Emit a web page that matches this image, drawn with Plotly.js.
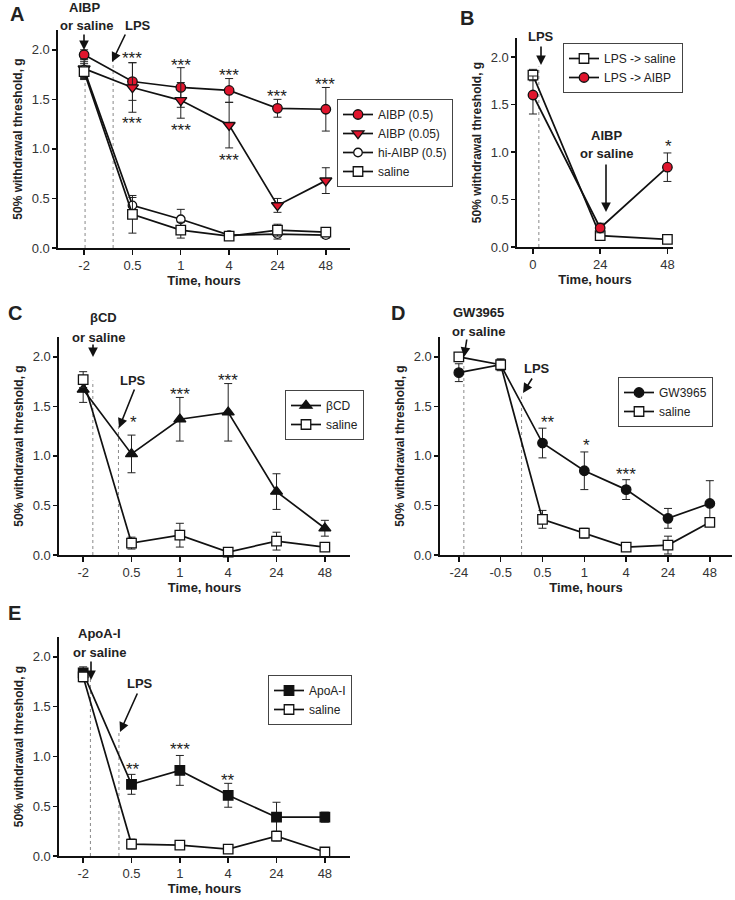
<!DOCTYPE html>
<html><head><meta charset="utf-8">
<script src="https://cdn.plot.ly/plotly-3.0.1.min.js"></script>
<style>html,body{margin:0;padding:0;background:#fff}</style>
</head><body><div id="chart" style="width:735px;height:900px"></div>
<script>
// ---------- data ----------
const catA = ['-2','0.5','1','4','24','48'];
const aibp05 = [1.95,1.68,1.62,1.59,1.41,1.40];
const aibp05Err = [0.05,0.19,0.20,0.12,0.09,0.22];
const aibp005 = [1.81,1.62,1.49,1.24,0.43,0.68];
const aibp005Err = [0.10,0.25,0.18,0.23,0.07,0.13];
const hiAibp = [1.80,0.43,0.29,0.13,0.14,0.13];
const hiAibpErr = [0.08,0.08,0.10,0.03,0.05,0.03];
const salineA = [1.78,0.34,0.18,0.12,0.18,0.16];
const salineAErr = [0.08,0.19,0.08,0.03,0.06,0.04];

const timeB = [0,24,48];
const salineB = [1.81,0.12,0.08];
const salineBErr = [0.06,0.03,0.02];
const aibpB = [1.60,0.20,0.84];
const aibpBErr = [0.20,0.05,0.15];

const catC = ['-2','0.5','1','4','24','48'];
const bcd = [1.67,1.02,1.37,1.44,0.64,0.27];
const bcdErr = [0.13,0.19,0.22,0.29,0.18,0.08];
const salineC = [1.77,0.12,0.20,0.03,0.14,0.08];
const salineCErr = [0.08,0.06,0.12,0.02,0.09,0.03];

const catD = ['-24','-0.5','0.5','1','4','24','48'];
const gw = [1.84,1.92,1.13,0.85,0.66,0.37,0.52];
const gwErr = [0.09,0.06,0.15,0.19,0.10,0.10,0.23];
const salineD = [2.00,1.92,0.36,0.22,0.08,0.10,0.33];
const salineDErr = [0.03,0.05,0.09,0.05,0.02,0.09,0.02];

const catE = ['-2','0.5','1','4','24','48'];
const apo = [1.84,0.72,0.86,0.61,0.39,0.39];
const apoErr = [0.06,0.10,0.15,0.12,0.15,0.05];
const salineE = [1.80,0.12,0.11,0.07,0.20,0.04];
const salineEErr = [0.05,0.05,0.02,0.02,0.05,0.02];

// ---------- helpers ----------
const W = 735, H = 900;
const px = x => x / W, py = y => 1 - y / H;
const FONT = 'Liberation Sans, Arial, sans-serif';
const RED = '#e0152d';

function tr(x, y, err, xa, ya, leg, name, symbol, fill, size) {
  return {
    x: x, y: y, type: 'scatter', mode: 'lines+markers', name: name,
    xaxis: xa, yaxis: ya, legend: leg, cliponaxis: false,
    line: {color: '#111', width: 1.7},
    marker: {symbol: symbol, size: size || 9.5, color: fill, line: {color: '#111', width: 1.3}},
    error_y: {type: 'data', array: err, visible: true, color: '#222', thickness: 1, width: 4}
  };
}

const traces = [
  tr(catA, aibp05, aibp05Err, 'x', 'y', 'legend', 'AIBP (0.5)', 'circle', RED),
  tr(catA, aibp005, aibp005Err, 'x', 'y', 'legend', 'AIBP (0.05)', 'triangle-down', RED, 10.5),
  tr(catA, hiAibp, hiAibpErr, 'x', 'y', 'legend', 'hi-AIBP (0.5)', 'circle', '#fff', 8.5),
  tr(catA, salineA, salineAErr, 'x', 'y', 'legend', 'saline', 'square', '#fff'),
  tr(timeB, salineB, salineBErr, 'x2', 'y2', 'legend2', 'LPS -> saline', 'square', '#fff'),
  tr(timeB, aibpB, aibpBErr, 'x2', 'y2', 'legend2', 'LPS -> AIBP', 'circle', RED),
  tr(catC, bcd, bcdErr, 'x3', 'y3', 'legend3', '\u03b2CD', 'triangle-up', '#111', 10.5),
  tr(catC, salineC, salineCErr, 'x3', 'y3', 'legend3', 'saline', 'square', '#fff'),
  tr(catD, gw, gwErr, 'x4', 'y4', 'legend4', 'GW3965', 'circle', '#111'),
  tr(catD, salineD, salineDErr, 'x4', 'y4', 'legend4', 'saline', 'square', '#fff'),
  tr(catE, apo, apoErr, 'x5', 'y5', 'legend5', 'ApoA-I', 'square', '#111'),
  tr(catE, salineE, salineEErr, 'x5', 'y5', 'legend5', 'saline', 'square', '#fff')
];

function xax(domain, anchor, extra) {
  return Object.assign({
    domain: domain, anchor: anchor, showline: true, linecolor: '#111', linewidth: 1.6,
    ticks: 'outside', ticklen: 5, tickwidth: 1.4, tickcolor: '#111',
    showgrid: false, zeroline: false,
    tickfont: {family: FONT, size: 13, color: '#333'},
    title: {text: '<b>Time, hours</b>', font: {family: FONT, size: 13, color: '#222'}, standoff: 2}
  }, extra);
}
function yax(domain, anchor) {
  return {
    domain: domain, anchor: anchor, range: [0, 2.2], showline: true, linecolor: '#111', linewidth: 1.6,
    ticks: 'outside', ticklen: 4, tickwidth: 1.4, tickcolor: '#111',
    tickvals: [0, 0.5, 1, 1.5, 2], tickformat: '.1f',
    showgrid: false, zeroline: false,
    tickfont: {family: FONT, size: 13, color: '#333'},
    title: {text: '<b>50% withdrawal threshold, g</b>', font: {family: FONT, size: 12, color: '#222'}, standoff: 6}
  };
}
function legend(x0, y0) {
  return {
    x: px(x0), y: py(y0), xanchor: 'left', yanchor: 'top',
    bordercolor: '#444', borderwidth: 1, bgcolor: '#fff',
    font: {family: FONT, size: 12, color: '#222'},
    itemwidth: 30, tracegroupgap: 0
  };
}

const ann = [];
function txt(t, x, y, size) {
  ann.push({text: t, x: px(x), y: py(y), xref: 'paper', yref: 'paper', showarrow: false,
    xanchor: 'center', yanchor: 'middle', font: {family: FONT, size: size || 13, color: '#222'}});
}
function arrow(hx, hy, tx, ty) {
  ann.push({text: '', x: px(hx), y: py(hy), xref: 'paper', yref: 'paper', showarrow: true,
    ax: tx - hx, ay: ty - hy, axref: 'pixel', ayref: 'pixel',
    arrowhead: 2, arrowsize: 1.2, arrowwidth: 1.6, arrowcolor: '#111'});
}
function star(t, x, y) {
  ann.push({text: t, x: px(x), y: py(y), xref: 'paper', yref: 'paper', showarrow: false,
    xanchor: 'center', yanchor: 'middle', yshift: -4, font: {family: FONT, size: 17, color: '#222'}});
}

// panel letters
txt('<b>A</b>', 17, 14, 20); txt('<b>B</b>', 467, 18, 20); txt('<b>C</b>', 15, 313, 20);
txt('<b>D</b>', 398, 313, 20); txt('<b>E</b>', 15, 613, 20);
// panel A
txt('<b>AIBP</b>', 84, 8); txt('<b>or saline</b>', 86, 26); txt('<b>LPS</b>', 138, 26);
arrow(84, 50, 84, 33); arrow(112, 62, 126, 33);
['***','***','***','***','***'].forEach((s, i) => star(s, [132,181,229,277,325][i], [54,61,71,92,80][i]));
star('***', 132, 120); star('***', 181, 127); star('***', 229, 156);
// panel B
txt('<b>LPS</b>', 541, 37); arrow(541, 65, 541, 45);
txt('<b>AIBP</b>', 606, 135); txt('<b>or saline</b>', 606, 153); arrow(606, 212, 606, 163);
star('*', 668, 142);
// panel C
txt('<b>\u03b2CD</b>', 103, 318); txt('<b>or saline</b>', 98, 337); arrow(93, 357, 93, 343);
txt('<b>LPS</b>', 133, 380); arrow(119, 428, 135, 388);
star('*', 133, 418); star('***', 180, 390); star('***', 228, 376);
// panel D
txt('<b>GW3965</b>', 478, 313); txt('<b>or saline</b>', 478, 332); arrow(464, 357, 467, 338);
txt('<b>LPS</b>', 537, 368); arrow(523, 393, 533, 377);
star('**', 548, 418); star('*', 586, 442); star('***', 626, 470);
// panel E
txt('<b>ApoA-I</b>', 99, 633); txt('<b>or saline</b>', 99, 652); arrow(91, 680, 91, 660);
txt('<b>LPS</b>', 140, 683); arrow(120, 732, 138, 692);
star('**', 133, 765); star('***', 180, 745); star('**', 228, 776);

function vline(xref, yref, x, ytop) {
  return {type: 'line', xref: xref, yref: yref, x0: x, x1: x, y0: 0, y1: ytop,
    line: {color: '#888', width: 1, dash: 'dot'}, layer: 'below'};
}
const shapes = [
  vline('x', 'y', 0.02, 2.0), vline('x', 'y', 0.6, 1.9),
  vline('x2', 'y2', 2.1, 1.9),
  vline('x3', 'y3', 0.2, 1.76), vline('x3', 'y3', 0.73, 1.3),
  vline('x4', 'y4', 0.12, 1.93), vline('x4', 'y4', 1.5, 1.6),
  vline('x5', 'y5', 0.15, 1.78), vline('x5', 'y5', 0.74, 1.25)
];

const layout = {
  width: W, height: H, margin: {l: 0, r: 0, t: 0, b: 0},
  paper_bgcolor: '#fff', plot_bgcolor: '#fff',
  font: {family: FONT, color: '#222'},
  xaxis: xax([px(58), px(350)], 'y', {type: 'category', range: [-0.54, 5.5]}),
  yaxis: yax([py(248), py(30)], 'x'),
  xaxis2: xax([px(517), px(673)], 'y2', {range: [-5.7, 50], tickvals: [0, 24, 48]}),
  yaxis2: yax([py(247), py(38)], 'x2'),
  xaxis3: xax([px(59), px(350)], 'y3', {type: 'category', range: [-0.5, 5.52]}),
  yaxis3: yax([py(555), py(337)], 'x3'),
  xaxis4: xax([px(440), px(732)], 'y4', {type: 'category', range: [-0.45, 6.53]}),
  yaxis4: yax([py(555), py(337)], 'x4'),
  xaxis5: xax([px(59), px(350)], 'y5', {type: 'category', range: [-0.5, 5.52]}),
  yaxis5: yax([py(856), py(637)], 'x5'),
  showlegend: true,
  legend: legend(337, 99), legend2: legend(563, 43), legend3: legend(285, 390),
  legend4: legend(618, 377), legend5: legend(268, 675),
  annotations: ann, shapes: shapes
};
Plotly.newPlot('chart', traces, layout, {displayModeBar: false, staticPlot: true});
</script></body></html>
